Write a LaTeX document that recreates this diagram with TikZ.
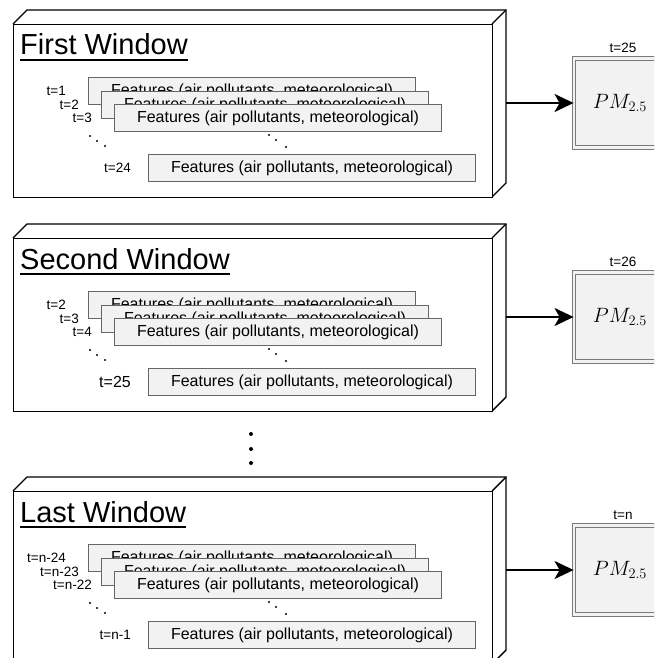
\documentclass[tikz,border=0pt]{standalone}
\usepackage[no-math]{fontspec}
\setmainfont{Liberation Sans}
\usetikzlibrary{arrows.meta}

\definecolor{boxfill}{HTML}{F2F2F2}
\definecolor{boxline}{HTML}{666666}
\definecolor{pmline}{HTML}{7A7A7A}

\tikzset{
  cube/.style={draw=black, line width=1.4pt, line join=miter},
  front/.style={cube, fill=white, inner sep=0pt},
  wintitle/.style={inner sep=0pt, font=\fontsize{29}{31}\selectfont},
  feat/.style={draw=boxline, fill=boxfill, line width=1pt, inner sep=0pt,
    minimum width=327pt, minimum height=27pt, anchor=north west,
    font=\fontsize{16}{18}\selectfont},
  tlab/.style={inner sep=0pt, font=\fontsize{13.5}{15}\selectfont},
  pm/.style={draw=pmline, double=boxfill, double distance=2.5pt, line width=0.9pt,
    fill=boxfill, minimum width=98pt, minimum height=89pt, inner sep=0pt,
    font=\fontsize{20}{21}\selectfont},
  flow/.style={draw=black, line width=2.2pt,
    -{Stealth[length=19pt, width=18pt, inset=5pt]}},
}

% one sliding window: #1 id, #2 top of front face, #3 title,
% #4-#7 time labels of the feature rows, #8 time label of the target
\newcommand\slidewin[8]{%
  \draw[cube] (13,#2) -- (27,#2-14) -- (506,#2-14) -- (506,#2+159) -- (492,#2+173);
  \draw[cube] (492,#2) -- (506,#2-14);
  \node[front, minimum width=479pt, minimum height=173pt, anchor=north west] (#1) at (13,#2) {};
  \node[wintitle, anchor=base west] (#1-title) at (20,#2+31) {#3};
  \draw[line width=2pt] ([yshift=-5pt]#1-title.base west) -- ([yshift=-5pt]#1-title.base east);
  \node[feat] (#1-f1) at (88,#2+53) {Features (air pollutants, meteorological)};
  \node[feat] (#1-f2) at (101,#2+67) {Features (air pollutants, meteorological)};
  \node[feat] (#1-f3) at (114,#2+80) {Features (air pollutants, meteorological)};
  \node[feat] (#1-f4) at (148,#2+130) {Features (air pollutants, meteorological)};
  \node[tlab, anchor=east] (#1-l1) at ([xshift=-22pt]#1-f1.west) {#4};
  \node[tlab, anchor=east] (#1-l2) at ([xshift=-22pt]#1-f2.west) {#5};
  \node[tlab, anchor=east] (#1-l3) at ([xshift=-22pt]#1-f3.west) {#6};
  \node[tlab, anchor=east] (#1-l4) at ([xshift=-17pt]#1-f4.west) {#7};
  \fill (90,#2+112) circle (1.1pt) (97,#2+117) circle (1.1pt) (105,#2+122) circle (1.1pt);
  \fill (269,#2+111) circle (1.1pt) (276,#2+116) circle (1.1pt) (286,#2+123) circle (1.1pt);
  \node[pm] (#1-pm) at (623,#2+79) {$PM_{2.5}$\hspace*{6pt}};
  \node[tlab, anchor=south] (#1-tpm) at ([yshift=5pt]#1-pm.north) {#8};
  \coordinate (#1-out) at (506,#2+79);
  \draw[flow] (#1-out) -- (#1-pm.west);
}

\begin{document}
\begin{tikzpicture}[x=1pt, y=-1pt]
  \useasboundingbox (0,0) rectangle (654,658);
  \clip (0,0) rectangle (654,658);
  \fill[white] (0,0) rectangle (654,658);

  \slidewin{wa}{24}{First Window}{t=1}{t=2}{t=3}{t=24}{t=25}
  \slidewin{wb}{238}{Second Window}{t=2}{t=3}{t=4}{\fontsize{16}{18}\selectfont t=25}{t=26}
  \slidewin{wc}{491}{Last Window}{t=n-24}{t=n-23}{t=n-22}{t=n-1}{t=n}

  % windows left out between the second and the last one
  \fill (251,434) circle (2pt) (251,449) circle (2pt) (251,463) circle (2pt);
\end{tikzpicture}
\end{document}
